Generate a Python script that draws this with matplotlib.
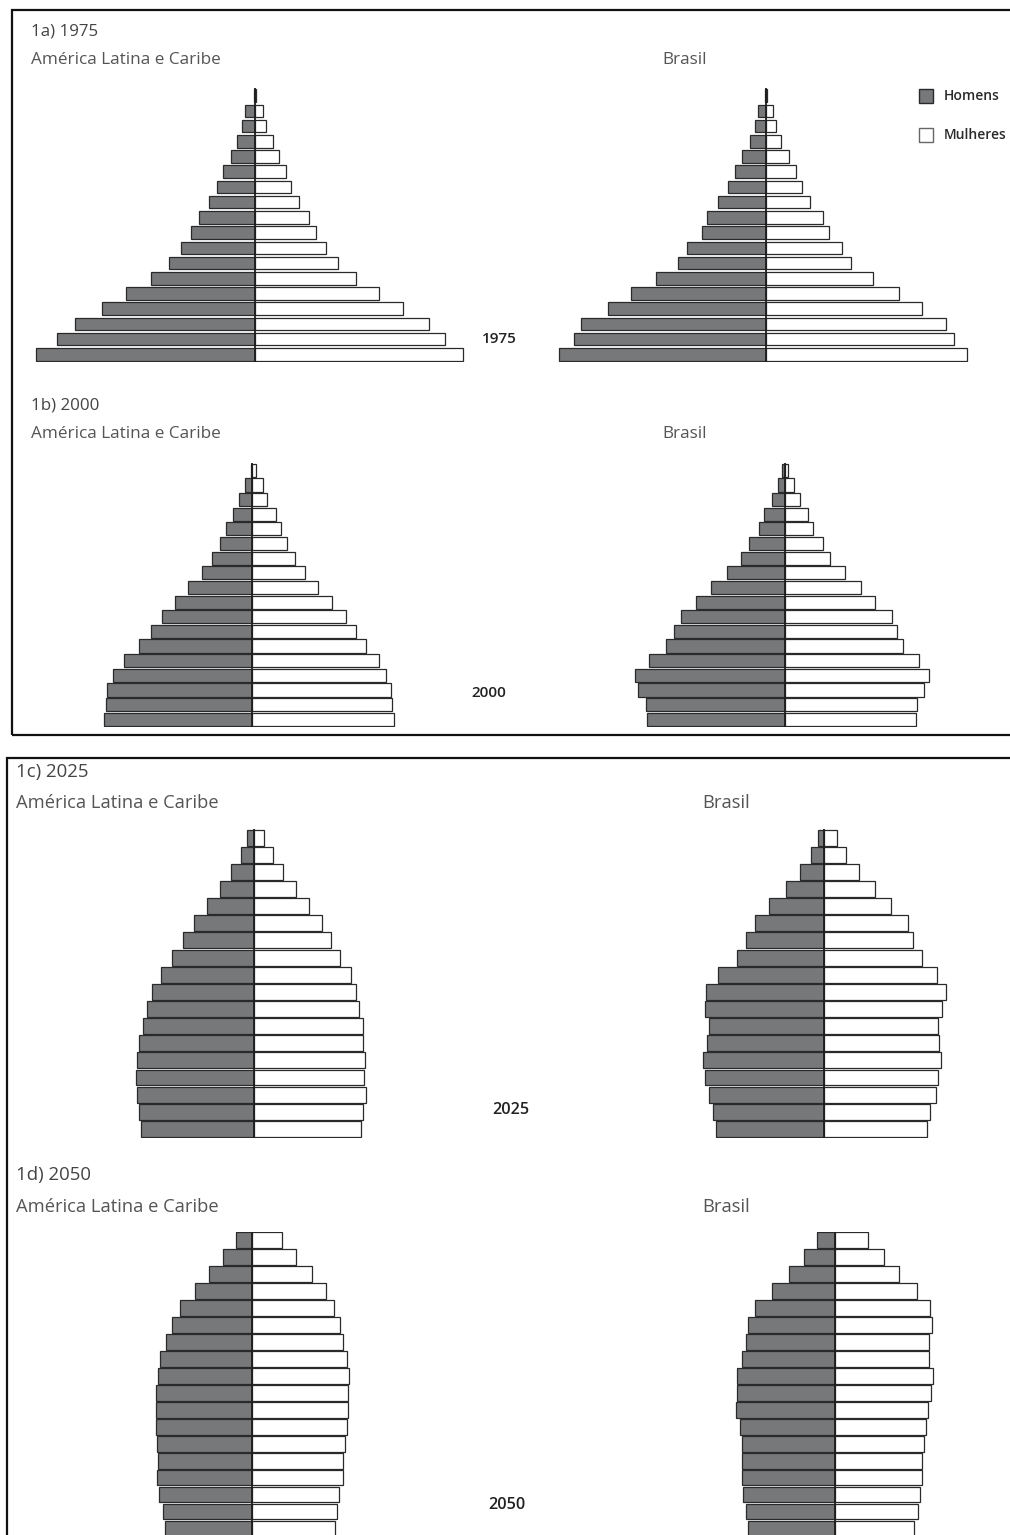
import matplotlib
matplotlib.use("Agg")
import matplotlib.pyplot as plt
from matplotlib.patches import Rectangle

W, H = 1010, 1535
plt.rcParams['font.family'] = ['Open Sans', 'DejaVu Sans']

ages = ["0-4", "5-9", "10-14", "15-19", "20-24", "25-29", "30-34", "35-39",
        "40-44", "45-49", "50-54", "55-59", "60-64", "65-69", "70-74",
        "75-79", "80-84", "85+"]

# % of total population per age group, youngest first
alc_1975_h = [7.68, 6.94, 6.32, 5.38, 4.54, 3.66, 3.01, 2.61, 2.26, 1.96,
              1.61, 1.32, 1.11, 0.85, 0.62, 0.45, 0.35, 0.02]
alc_1975_m = [7.31, 6.67, 6.11, 5.20, 4.36, 3.54, 2.92, 2.49, 2.14, 1.91,
              1.55, 1.26, 1.09, 0.85, 0.62, 0.39, 0.29, 0.03]
bra_1975_h = [7.25, 6.73, 6.48, 5.54, 4.73, 3.85, 3.06, 2.77, 2.25, 2.07,
              1.66, 1.31, 1.08, 0.84, 0.55, 0.38, 0.26, 0.02]
bra_1975_m = [7.05, 6.59, 6.33, 5.47, 4.66, 3.75, 2.99, 2.69, 2.22, 2.00,
              1.55, 1.29, 1.05, 0.82, 0.53, 0.36, 0.24, 0.03]

alc_2000_h = [5.18, 5.12, 5.06, 4.88, 4.47, 3.94, 3.53, 3.16, 2.69, 2.22,
              1.75, 1.40, 1.11, 0.90, 0.64, 0.43, 0.24, 0.04]
alc_2000_m = [4.99, 4.94, 4.88, 4.70, 4.47, 4.00, 3.65, 3.30, 2.83, 2.34,
              1.87, 1.52, 1.23, 1.02, 0.84, 0.55, 0.38, 0.15]
bra_2000_h = [4.85, 4.89, 5.15, 5.26, 4.77, 4.19, 3.88, 3.66, 3.13, 2.60,
              2.02, 1.55, 1.25, 0.91, 0.73, 0.45, 0.26, 0.10]
bra_2000_m = [4.59, 4.62, 4.88, 5.06, 4.70, 4.15, 3.94, 3.76, 3.16, 2.66,
              2.11, 1.58, 1.34, 0.99, 0.82, 0.53, 0.32, 0.12]

alc_2025_h = [3.96, 4.02, 4.09, 4.15, 4.09, 4.02, 3.91, 3.76, 3.57, 3.26,
              2.87, 2.50, 2.11, 1.66, 1.19, 0.82, 0.46, 0.26]
alc_2025_m = [3.74, 3.84, 3.92, 3.87, 3.89, 3.84, 3.84, 3.69, 3.57, 3.39,
              3.02, 2.70, 2.38, 1.93, 1.46, 1.03, 0.66, 0.35]
bra_2025_h = [3.79, 3.91, 4.04, 4.18, 4.24, 4.09, 4.04, 4.18, 4.15, 3.71,
              3.06, 2.74, 2.42, 1.92, 1.33, 0.84, 0.46, 0.20]
bra_2025_m = [3.60, 3.72, 3.92, 4.01, 4.09, 4.05, 4.01, 4.13, 4.28, 3.95,
              3.45, 3.13, 2.94, 2.34, 1.79, 1.23, 0.77, 0.45]

alc_2050_h = [3.06, 3.12, 3.26, 3.36, 3.32, 3.33, 3.39, 3.38, 3.39, 3.32,
              3.24, 3.04, 2.83, 2.54, 2.01, 1.51, 1.02, 0.57]
alc_2050_m = [2.90, 2.96, 3.05, 3.17, 3.19, 3.25, 3.31, 3.37, 3.37, 3.39,
              3.31, 3.19, 3.08, 2.87, 2.59, 2.08, 1.53, 1.03]
bra_2050_h = [3.06, 3.13, 3.22, 3.27, 3.27, 3.27, 3.33, 3.47, 3.45, 3.45,
              3.27, 3.13, 3.06, 2.81, 2.22, 1.60, 1.09, 0.64]
bra_2050_m = [2.78, 2.90, 2.98, 3.04, 3.04, 3.12, 3.19, 3.27, 3.36, 3.45,
              3.31, 3.31, 3.39, 3.33, 2.87, 2.25, 1.73, 1.17]

MALE = '#77787a'
EDGE = '#2a2a2a'
PX_PER_PCT = 28.5
XR = 8.0

fig = plt.figure(figsize=(W / 100, H / 100), dpi=100)


def fx(x):
    return x / W


def fy(y):
    return 1 - y / H


def pyramid(homens, mulheres, cx, top, bottom, bar_h):
    left = cx - XR * PX_PER_PCT
    ax = fig.add_axes([fx(left), fy(bottom), 2 * XR * PX_PER_PCT / W, (bottom - top) / H])
    y = list(range(len(ages)))
    ax.barh(y, [-v for v in homens], height=bar_h, color=MALE, edgecolor=EDGE, linewidth=0.9)
    ax.barh(y, mulheres, height=bar_h, color='white', edgecolor=EDGE, linewidth=0.9)
    ax.plot([0, 0], [-0.5, len(ages) - 0.5], color='#1e1e1e', linewidth=1.3)
    ax.set_xlim(-XR, XR)
    ax.set_ylim(-0.5, len(ages) - 0.5)
    ax.axis('off')
    return ax


def label(x, y, s, size=11, color='#555555', weight='normal'):
    fig.text(fx(x), fy(y), s, fontsize=size, color=color, weight=weight, va='center', ha='left')


# frames
fig.patches.append(Rectangle((fx(12), fy(735)), fx(1020 - 12), (735 - 10) / H,
                             transform=fig.transFigure, fill=False, edgecolor='#111', linewidth=1.6))
fig.patches.append(Rectangle((fx(7), fy(1545)), fx(1020 - 7), (1545 - 758) / H,
                             transform=fig.transFigure, fill=False, edgecolor='#111', linewidth=1.6))

# 1975
label(31, 31, "1a) 1975", 12.2, '#444444')
label(31, 60, "América Latina e Caribe", 12.3)
label(662, 60, "Brasil", 12.3)
label(482, 339, "1975", 11, '#222222', 'semibold')
pyramid(alc_1975_h, alc_1975_m, 255, 88, 362, 0.82)
pyramid(bra_1975_h, bra_1975_m, 765.7, 88, 362, 0.82)

# legend
fig.patches.append(Rectangle((fx(919), fy(103)), 14 / W, 14 / H, transform=fig.transFigure,
                             facecolor=MALE, edgecolor=EDGE, linewidth=1.0))
fig.patches.append(Rectangle((fx(919), fy(142)), 14 / W, 14 / H, transform=fig.transFigure,
                             facecolor='white', edgecolor='#666', linewidth=1.0))
label(944, 96, "Homens", 10, '#2a2a2a', 'semibold')
label(944, 135, "Mulheres", 10, '#2a2a2a', 'semibold')

# 2000
label(31, 405, "1b) 2000", 12.2, '#444444')
label(31, 434, "América Latina e Caribe", 12.3)
label(662, 434, "Brasil", 12.3)
label(471, 693, "2000", 11, '#222222', 'semibold')
pyramid(alc_2000_h, alc_2000_m, 251.7, 463, 726.6, 0.9)
pyramid(bra_2000_h, bra_2000_m, 785, 463, 726.6, 0.9)

# 2025
label(16, 772, "1c) 2025", 13.4, '#444444')
label(16, 803, "América Latina e Caribe", 13.2)
label(702, 803, "Brasil", 13.2)
label(492, 1110, "2025", 11.6, '#222222', 'semibold')
pyramid(alc_2025_h, alc_2025_m, 254, 829, 1137.5, 0.93)
pyramid(bra_2025_h, bra_2025_m, 824, 829, 1137.5, 0.93)

# 2050
label(16, 1175, "1d) 2050", 13.4, '#444444')
label(16, 1207, "América Latina e Caribe", 13.2)
label(702, 1207, "Brasil", 13.2)
label(488, 1505, "2050", 11.6, '#222222', 'semibold')
pyramid(alc_2050_h, alc_2050_m, 252.3, 1231.5, 1537, 0.93)
pyramid(bra_2050_h, bra_2050_m, 835, 1231.5, 1537, 0.93)

fig.savefig("out.png", dpi=100)
